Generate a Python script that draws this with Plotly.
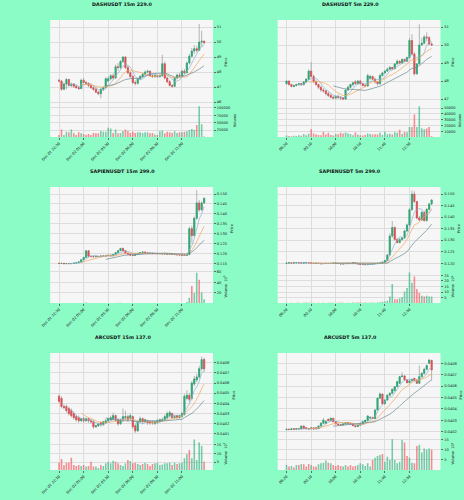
import plotly.graph_objects as go
import pandas as pd

# ---------------- DATA ----------------
labels_15m = ["Dec 01 22:30", "Dec 02 01:00", "Dec 02 03:30", "Dec 02 06:00", "Dec 02 08:30", "Dec 02 11:00"]
labels_5m = ["08:20", "09:10", "10:00", "10:50", "11:40", "12:30"]

dash15_open = [47.45,47.40,46.85,47.20,47.50,47.10,47.20,47.05,46.95,46.90,
               47.45,47.30,47.25,47.10,46.95,46.85,46.65,46.55,46.85,46.95,
               47.40,47.55,47.75,47.60,48.35,48.30,48.70,49.00,48.30,47.95,
               47.70,47.30,47.25,47.55,47.70,47.85,48.00,48.05,47.75,47.70,
               47.75,47.70,47.75,48.55,47.60,47.35,47.10,47.05,47.60,47.80,
               47.75,48.05,47.95,48.60,49.05,49.40,49.55,49.45,50.00,50.05]
dash15_high = [47.55,47.45,47.30,47.60,47.55,47.30,47.25,47.15,47.05,47.55,
               47.60,47.40,47.30,47.20,47.05,46.95,46.75,46.95,47.05,47.65,
               47.70,47.85,47.90,48.50,48.60,48.80,49.05,49.05,48.45,48.05,
               47.80,47.45,47.60,47.80,47.95,48.10,48.15,48.10,47.85,47.85,
               47.80,47.85,49.15,48.70,47.70,47.45,47.20,47.65,47.90,47.95,
               48.15,48.20,48.70,49.20,49.60,49.80,49.75,51.20,50.75,50.10]
dash15_low = [47.30,46.75,46.80,46.85,47.05,47.00,46.95,46.90,46.80,46.85,
              47.25,47.15,47.00,46.90,46.75,46.60,46.45,46.25,46.75,46.90,
              47.30,47.45,47.50,47.55,48.10,48.20,48.60,48.20,47.85,47.60,
              47.20,47.10,47.15,47.45,47.60,47.75,47.90,47.70,47.60,47.60,
              47.60,47.60,47.70,47.50,47.25,47.05,46.95,47.00,47.50,47.65,
              47.70,47.85,47.90,48.50,48.95,49.20,49.30,49.40,49.70,49.85]
dash15_close = [47.40,46.85,47.20,47.50,47.10,47.20,47.05,46.95,46.90,47.45,
                47.30,47.25,47.10,46.95,46.85,46.65,46.55,46.85,46.95,47.55,
                47.55,47.75,47.60,48.35,48.30,48.70,49.00,48.30,47.95,47.70,
                47.30,47.25,47.55,47.70,47.85,48.00,48.05,47.75,47.70,47.75,
                47.70,47.75,48.55,47.60,47.35,47.10,47.05,47.60,47.80,47.75,
                48.05,47.95,48.60,49.05,49.40,49.55,49.45,50.00,50.05,49.95]
dash15_vol = [7800,27000,7800,19000,17000,27000,13500,7800,17000,13500,
              11000,7800,11000,7800,15000,13500,13500,22000,19000,19000,
              33000,30000,15000,27000,13500,15000,22000,27000,22000,15000,
              19000,15000,17000,17000,15000,17000,17000,13500,15000,9500,
              7800,21000,23000,13500,19000,17000,15000,21000,15000,17000,
              17000,19000,21000,25000,28000,25000,42000,106000,45000,2500]

dash5_open = [47.85,48.00,47.80,47.70,47.75,47.80,47.85,47.80,47.95,48.10,
              48.55,48.25,47.95,47.80,47.65,47.50,47.45,47.30,47.20,47.10,
              47.05,47.15,47.10,47.05,47.00,47.50,47.65,47.80,47.95,47.85,
              48.00,47.85,47.75,47.72,48.15,48.25,48.10,47.95,47.85,48.30,
              48.45,48.55,48.65,48.75,48.68,48.95,49.10,49.00,49.20,49.10,
              49.30,50.25,49.50,48.40,48.95,50.00,50.10,50.45,50.40,50.05]
dash5_high = [48.05,48.02,47.85,47.80,47.85,47.90,47.90,48.00,48.15,48.65,
              49.05,48.35,48.05,47.85,47.75,47.60,47.50,47.40,47.30,47.20,
              47.20,47.25,47.15,47.10,47.55,47.75,47.85,47.95,48.05,48.05,
              48.05,47.90,47.85,48.40,48.35,48.30,48.20,48.00,48.40,48.50,
              48.60,48.75,48.85,48.80,49.00,49.20,49.15,49.25,49.25,49.35,
              50.40,50.60,49.60,49.00,51.15,50.40,50.55,50.70,50.50,50.15]
dash5_low = [47.80,47.75,47.65,47.65,47.70,47.75,47.75,47.75,47.90,48.05,
             48.20,47.90,47.75,47.55,47.40,47.35,47.20,47.10,47.05,47.00,
             47.00,47.00,46.95,46.95,46.95,47.45,47.60,47.70,47.80,47.80,
             47.80,47.70,47.65,47.70,48.05,48.05,47.85,47.75,47.80,48.25,
             48.40,48.50,48.60,48.60,48.65,48.90,48.95,48.95,49.05,49.05,
             49.25,49.45,48.30,48.35,48.90,49.95,50.05,50.20,50.00,49.95]
dash5_close = [48.00,47.80,47.70,47.75,47.80,47.85,47.80,47.95,48.10,48.55,
               48.25,47.95,47.80,47.65,47.50,47.45,47.30,47.20,47.10,47.05,
               47.15,47.10,47.05,47.00,47.50,47.65,47.80,47.90,47.85,48.00,
               47.85,47.75,47.72,48.30,48.25,48.10,47.95,47.85,48.30,48.45,
               48.55,48.65,48.75,48.68,48.95,49.10,49.00,49.20,49.10,49.30,
               50.25,49.50,48.40,48.95,50.00,50.10,50.45,50.40,50.05,50.00]
dash5_vol = [3000,2000,1500,2500,2000,3500,2500,5500,3500,6000,
             13500,6500,4500,4000,3500,9500,4500,7500,4000,3000,
             5500,5000,7500,6500,8000,6500,5500,3500,8000,4500,
             3500,3000,4000,6500,5500,4500,5000,4500,7500,4000,
             9500,5000,6000,4500,8500,7500,13000,5500,9000,8500,
             17500,17500,39000,17500,53000,15500,13500,15000,17500,1500]

sapien15_open = [.1150,.1149,.1150,.1148,.1149,.1148,.1149,.1151,.1153,.1157,
                 .1168,.1180,.1213,.1186,.1184,.1183,.1185,.1184,.1187,.1186,
                 .1189,.1191,.1188,.1194,.1204,.1214,.1225,.1214,.1201,.1196,
                 .1191,.1190,.1197,.1200,.1204,.1207,.1203,.1200,.1202,.1199,
                 .1200,.1198,.1199,.1197,.1198,.1196,.1197,.1195,.1194,.1193,
                 .1192,.1191,.1190,.1194,.1325,.1290,.1378,.1455,.1420,.1455]
sapien15_high = [.1152,.1151,.1151,.1150,.1151,.1150,.1152,.1154,.1158,.1170,
                 .1182,.1217,.1216,.1190,.1188,.1187,.1188,.1189,.1190,.1191,
                 .1193,.1194,.1196,.1206,.1216,.1228,.1230,.1217,.1204,.1199,
                 .1194,.1199,.1202,.1206,.1209,.1209,.1205,.1204,.1204,.1202,
                 .1202,.1201,.1201,.1200,.1199,.1198,.1198,.1197,.1196,.1195,
                 .1194,.1193,.1196,.1335,.1340,.1385,.1520,.1470,.1462,.1483]
sapien15_low = [.1148,.1147,.1147,.1146,.1147,.1146,.1148,.1150,.1152,.1156,
                .1166,.1178,.1183,.1181,.1180,.1181,.1182,.1183,.1184,.1185,
                .1187,.1187,.1186,.1192,.1202,.1212,.1211,.1198,.1193,.1188,
                .1187,.1189,.1195,.1198,.1202,.1201,.1198,.1198,.1197,.1196,
                .1197,.1196,.1195,.1195,.1194,.1194,.1193,.1192,.1191,.1190,
                .1189,.1188,.1188,.1192,.1255,.1285,.1370,.1410,.1415,.1450]
sapien15_close = [.1149,.1150,.1148,.1149,.1148,.1149,.1151,.1153,.1157,.1168,
                  .1180,.1213,.1186,.1184,.1183,.1185,.1184,.1187,.1186,.1189,
                  .1191,.1188,.1194,.1204,.1214,.1225,.1214,.1201,.1196,.1191,
                  .1190,.1197,.1200,.1204,.1207,.1203,.1200,.1202,.1199,.1200,
                  .1198,.1199,.1197,.1198,.1196,.1197,.1195,.1194,.1193,.1192,
                  .1191,.1190,.1194,.1325,.1290,.1378,.1455,.1420,.1455,.1478]
sapien15_vol_1e6 = [0.4,0.3,0.5,0.3,0.4,0.3,0.5,0.6,0.8,1.0,
                    1.4,2.2,1.2,0.6,0.5,0.4,0.5,0.4,0.5,0.6,
                    0.5,0.4,0.6,1.0,1.4,1.8,1.2,1.0,0.7,0.6,
                    0.5,0.6,0.5,0.6,0.7,0.5,0.4,0.4,0.5,0.4,
                    0.3,0.4,0.3,0.4,0.3,0.3,0.4,0.3,0.3,0.4,
                    0.5,0.6,3.0,11.0,33.0,20.0,58.0,45.0,21.0,8.0]

sapien5_open = [.1200,.1201,.1202,.1201,.1202,.1203,.1202,.1201,.1202,.1203,
                .1202,.1200,.1199,.1200,.1199,.1198,.1199,.1200,.1199,.1200,
                .1201,.1200,.1199,.1197,.1198,.1199,.1200,.1199,.1202,.1200,
                .1197,.1195,.1196,.1194,.1195,.1196,.1198,.1199,.1200,.1201,
                .1205,.1212,.1236,.1318,.1355,.1303,.1290,.1303,.1310,.1340,
                .1366,.1432,.1500,.1467,.1396,.1388,.1420,.1385,.1434,.1457]
sapien5_high = [.1202,.1203,.1203,.1203,.1204,.1204,.1203,.1203,.1204,.1205,
                .1203,.1201,.1201,.1201,.1200,.1200,.1201,.1201,.1201,.1202,
                .1202,.1201,.1200,.1199,.1200,.1201,.1201,.1203,.1203,.1201,
                .1198,.1197,.1197,.1196,.1197,.1199,.1200,.1201,.1202,.1206,
                .1214,.1240,.1330,.1383,.1360,.1310,.1308,.1315,.1345,.1372,
                .1438,.1515,.1512,.1470,.1405,.1425,.1428,.1438,.1460,.1478]
sapien5_low = [.1199,.1200,.1200,.1200,.1201,.1201,.1200,.1200,.1201,.1201,
               .1199,.1198,.1198,.1198,.1197,.1197,.1198,.1198,.1198,.1199,
               .1199,.1198,.1196,.1196,.1197,.1198,.1198,.1198,.1199,.1196,
               .1194,.1193,.1193,.1193,.1194,.1195,.1197,.1198,.1199,.1200,
               .1204,.1210,.1234,.1310,.1298,.1285,.1286,.1298,.1306,.1336,
               .1360,.1428,.1462,.1390,.1382,.1383,.1380,.1380,.1430,.1452]
sapien5_close = [.1201,.1202,.1201,.1202,.1203,.1202,.1201,.1202,.1203,.1202,
                 .1200,.1199,.1200,.1199,.1198,.1199,.1200,.1199,.1200,.1201,
                 .1200,.1199,.1197,.1198,.1199,.1200,.1199,.1202,.1200,.1197,
                 .1195,.1196,.1194,.1195,.1196,.1198,.1199,.1200,.1201,.1205,
                 .1212,.1236,.1318,.1355,.1303,.1290,.1303,.1310,.1340,.1366,
                 .1432,.1500,.1467,.1396,.1388,.1420,.1385,.1434,.1457,.1474]
sapien5_vol_1e6 = [0.3,0.2,0.3,0.2,0.4,0.3,0.2,0.3,0.5,0.3,
                   0.4,0.3,0.2,0.3,0.2,0.3,0.2,0.3,0.4,0.3,
                   0.2,0.3,0.5,0.3,0.2,0.3,0.2,0.6,0.4,0.5,
                   0.6,0.4,0.5,0.3,0.4,0.5,0.4,0.6,0.7,1.2,
                   1.5,2.2,5.9,17.3,3.5,3.5,4.4,5.5,10.5,13.6,
                   27.5,18.3,23.9,12.8,9.1,6.6,6.0,6.6,6.0,6.0]

arc15_open = [.04047,.04045,.04037,.04037,.04035,.04033,.04030,.04027,.04026,.04023,
              .04025,.04023,.04025,.04023,.04022,.04017,.04018,.04021,.04019,.04021,
              .04023,.04024,.04025,.04028,.04024,.04020,.04024,.04026,.04027,.04025,
              .04027,.04018,.04013,.04022,.04025,.04022,.04023,.04022,.04022,.04020,
              .04021,.04022,.04023,.04024,.04026,.04028,.04030,.04026,.04028,.04026,
              .04027,.04029,.04045,.04048,.04045,.04059,.04063,.04066,.04074,.04083]
arc15_high = [.04049,.04047,.04039,.04039,.04037,.04035,.04032,.04029,.04028,.04026,
              .04027,.04026,.04026,.04025,.04024,.04019,.04021,.04022,.04023,.04025,
              .04026,.04028,.04031,.04029,.04025,.04025,.04035,.04033,.04029,.04030,
              .04028,.04020,.04023,.04027,.04026,.04025,.04024,.04023,.04023,.04023,
              .04025,.04025,.04026,.04029,.04032,.04033,.04031,.04029,.04029,.04029,
              .04032,.04049,.04053,.04050,.04062,.04067,.04069,.04077,.04086,.04085]
arc15_low = [.04040,.04035,.04034,.04031,.04028,.04026,.04024,.04022,.04021,.04022,
             .04021,.04022,.04021,.04020,.04015,.04016,.04017,.04017,.04018,.04020,
             .04022,.04023,.04024,.04022,.04018,.04019,.04022,.04024,.04022,.04023,
             .04015,.04011,.04012,.04021,.04020,.04021,.04019,.04019,.04019,.04019,
             .04020,.04021,.04022,.04023,.04024,.04026,.04025,.04025,.04024,.04025,
             .04026,.04028,.04043,.04041,.04043,.04057,.04061,.04064,.04072,.04071]
arc15_close = [.04042,.04037,.04036,.04033,.04030,.04028,.04026,.04024,.04023,.04025,
               .04023,.04025,.04023,.04022,.04017,.04018,.04020,.04019,.04022,.04023,
               .04025,.04026,.04028,.04024,.04020,.04024,.04027,.04027,.04024,.04028,
               .04017,.04013,.04022,.04025,.04022,.04024,.04021,.04021,.04021,.04022,
               .04023,.04024,.04024,.04027,.04030,.04031,.04026,.04027,.04026,.04028,
               .04030,.04047,.04048,.04044,.04060,.04064,.04066,.04074,.04083,.04074]
arc15_vol_1e5 = [4.6,6.8,3.2,4.6,4.6,7.5,3.2,2.6,3.2,2.6,
                 3.2,2.3,2.6,5.2,2.3,2.3,1.5,3.2,2.6,4.2,
                 5.2,4.2,5.8,5.2,4.2,3.2,2.6,4.2,6.2,5.5,
                 4.2,4.6,3.8,3.2,3.8,4.6,3.8,2.6,3.8,4.2,
                 4.6,3.2,3.5,4.2,4.2,4.6,3.2,4.6,3.8,4.2,
                 4.6,7.2,9.5,12.1,7.2,18.3,6.2,16.4,14.4,5.2]

arc5_open = [.040218,.040222,.040219,.040226,.040221,.040228,.040224,.040250,.040236,.040227,
             .040224,.040234,.040236,.040226,.040250,.040274,.040272,.040309,.040297,.040318,
             .040288,.040268,.040262,.040259,.040268,.040280,.040274,.040268,.040253,.040245,
             .040258,.040270,.040288,.040300,.040320,.040326,.040316,.040391,.040493,.040531,
             .040445,.040478,.040520,.040537,.040560,.040595,.040625,.040683,.040689,.040654,
             .040630,.040645,.040668,.040654,.040625,.040683,.040712,.040747,.040800,.040825]
arc5_high = [.040226,.040228,.040230,.040230,.040232,.040234,.040255,.040256,.040238,.040232,
             .040238,.040236,.040240,.040256,.040285,.040320,.040300,.040315,.040325,.040322,
             .040292,.040275,.040268,.040272,.040285,.040285,.040280,.040272,.040258,.040262,
             .040275,.040295,.040305,.040345,.040335,.040330,.040395,.040500,.040545,.040535,
             .040485,.040525,.040545,.040580,.040600,.040645,.040690,.040720,.040695,.040660,
             .040650,.040665,.040672,.040660,.040780,.040720,.040760,.040790,.040835,.040830]
arc5_low = [.040212,.040215,.040216,.040218,.040218,.040222,.040220,.040226,.040225,.040220,
            .040222,.040222,.040220,.040224,.040246,.040270,.040268,.040295,.040290,.040285,
            .040265,.040255,.040250,.040255,.040262,.040270,.040262,.040250,.040240,.040242,
            .040255,.040266,.040284,.040296,.040312,.040310,.040312,.040388,.040488,.040440,
            .040440,.040470,.040515,.040530,.040555,.040590,.040620,.040680,.040650,.040625,
            .040625,.040640,.040645,.040620,.040620,.040678,.040705,.040740,.040795,.040650]
arc5_close = [.040222,.040219,.040226,.040221,.040228,.040225,.040250,.040228,.040227,.040224,
              .040234,.040224,.040226,.040250,.040274,.040303,.040290,.040297,.040318,.040288,
              .040268,.040262,.040259,.040268,.040280,.040274,.040268,.040253,.040245,.040258,
              .040270,.040288,.040300,.040338,.040326,.040316,.040391,.040493,.040531,.040445,
              .040478,.040520,.040537,.040572,.040595,.040639,.040683,.040689,.040654,.040630,
              .040645,.040660,.040650,.040625,.040683,.040712,.040747,.040780,.040829,.040742]
arc5_vol_1e5 = [2.6,1.8,2.1,1.4,2.6,2.6,3.1,2.9,1.8,3.1,
                2.6,1.8,1.8,2.9,3.4,3.7,4.7,3.7,3.4,2.6,
                2.1,2.6,2.1,1.8,2.6,1.8,2.6,1.8,2.1,2.6,
                3.4,2.9,2.1,3.4,1.8,5.0,6.1,6.9,7.4,7.9,
                4.2,6.6,5.0,15.0,5.0,3.4,4.2,14.7,13.4,6.9,
                6.1,3.7,3.4,11.7,12.3,8.6,10.6,9.9,10.6,9.9]

ma_windows = [5, 10, 20]

# ---------------- STYLE / LAYOUT SETTINGS ----------------
BG = "#8cfcc7"
PLOT_BG = "#f6f6f6"
GRID = "#dddddd"
UP, DN = "#1fb075", "#f2484e"
UPV, DNV = "rgba(31,176,117,0.6)", "rgba(242,72,78,0.6)"
WICK = "#8a8a8a"
MA_COLORS = ["#8fb0cc", "#f2a65a", "#6c8a92"]
FONT = "DejaVu Sans"
TICK_FS = 3.6

W, H = 464, 500
col_x = [(42, 208), (274, 440)]
row_y = [(20, 104, 137), (187, 270, 303), (353, 437, 470)]
title_y = [4, 171, 337]
XRANGE = [-3.6, 62.6]

charts = [
    dict(title="DASHUSDT 15m 229.0", o=dash15_open, h=dash15_high, l=dash15_low, c=dash15_close,
         v=dash15_vol, labels=labels_15m, pr=[45.867, 51.467], pd=1, pf="d",
         vr=[1140, 113600], vd=25000, vf="d", vt="Volume"),
    dict(title="DASHUSDT 5m 229.0", o=dash5_open, h=dash5_high, l=dash5_low, c=dash5_close,
         v=dash5_vol, labels=labels_5m, pr=[46.722, 51.389], pd=1, pf="d",
         vr=[400, 57000], vd=10000, vf="d", vt="Volume"),
    dict(title="SAPIENUSDT 15m 299.0", o=sapien15_open, h=sapien15_high, l=sapien15_low, c=sapien15_close,
         v=sapien15_vol_1e6, labels=labels_15m, pr=[0.11162, 0.15354], pd=0.005, pf=".3f",
         vr=[1.1, 63.2], vd=20, vf="d", vt="Volume  10<sup>6</sup>"),
    dict(title="SAPIENUSDT 5m 299.0", o=sapien5_open, h=sapien5_high, l=sapien5_low, c=sapien5_close,
         v=sapien5_vol_1e6, labels=labels_5m, pr=[0.1171, 0.15303], pd=0.005, pf=".3f",
         vr=[0.1, 29.8], vd=5, vf="d", vt="Volume  10<sup>6</sup>"),
    dict(title="ARCUSDT 15m 137.0", o=arc15_open, h=arc15_high, l=arc15_low, c=arc15_close,
         v=arc15_vol_1e5, labels=labels_15m, pr=[0.04007, 0.040895], pd=0.0001, pf=".4f",
         vr=[0.3, 19.7], vd=5, vf="d", vt="Volume  10<sup>5</sup>"),
    dict(title="ARCUSDT 5m 137.0", o=arc5_open, h=arc5_high, l=arc5_low, c=arc5_close,
         v=arc5_vol_1e5, labels=labels_5m, pr=[0.040154, 0.04089], pd=0.0001, pf=".4f",
         vr=[0.17, 16.1], vd=5, vf="d", vt="Volume  10<sup>5</sup>"),
]

fig = go.Figure()
layout = dict(width=W, height=H, margin=dict(l=0, r=0, t=0, b=0),
              paper_bgcolor=BG, plot_bgcolor=PLOT_BG, showlegend=False,
              font=dict(family=FONT, color="#222222", size=TICK_FS),
              boxgap=0.3, bargap=0.3, annotations=[])

def ak(prefix, n):
    return prefix if n == 1 else f"{prefix}{n}"

for p, ch in enumerate(charts):
    r, cidx = divmod(p, 2)
    x0, x1 = col_x[cidx]
    top, mid, bot = row_y[r]
    xdom = [x0 / W, x1 / W]
    pdom = [1 - mid / H, 1 - top / H]
    vdom = [1 - bot / H, 1 - mid / H]
    na, nb = 2 * p + 1, 2 * p + 2
    xs = list(range(len(ch["c"])))
    o, h, l, c, v = ch["o"], ch["h"], ch["l"], ch["c"], ch["v"]

    # wicks
    fig.add_trace(go.Candlestick(
        x=xs, open=o, high=h, low=l, close=c, whiskerwidth=0,
        increasing=dict(line=dict(color=WICK, width=0.6), fillcolor=WICK),
        decreasing=dict(line=dict(color=WICK, width=0.6), fillcolor=WICK),
        xaxis=f"x{na}", yaxis=f"y{na}", hoverinfo="skip"))
    # bodies
    fig.add_trace(go.Candlestick(
        x=xs, open=o, close=c,
        high=[max(a, b) for a, b in zip(o, c)], low=[min(a, b) for a, b in zip(o, c)],
        whiskerwidth=0,
        increasing=dict(line=dict(color=UP, width=0.4), fillcolor=UP),
        decreasing=dict(line=dict(color=DN, width=0.4), fillcolor=DN),
        xaxis=f"x{na}", yaxis=f"y{na}", hoverinfo="skip"))
    # moving averages
    for w, col in zip(ma_windows, MA_COLORS):
        ma = pd.Series(c).rolling(w).mean()
        fig.add_trace(go.Scatter(x=xs, y=ma, mode="lines", line=dict(color=col, width=0.7),
                                 xaxis=f"x{na}", yaxis=f"y{na}", hoverinfo="skip"))
    # volume
    fig.add_trace(go.Bar(x=xs, y=v, width=0.65,
                         marker=dict(color=[UPV if cc >= oo else DNV for oo, cc in zip(o, c)],
                                     line=dict(width=0)),
                         xaxis=f"x{nb}", yaxis=f"y{nb}", hoverinfo="skip"))

    common_x = dict(domain=xdom, range=XRANGE, tickmode="array", tickvals=[0, 10, 20, 30, 40, 50],
                    ticktext=ch["labels"], showgrid=True, gridcolor=GRID, gridwidth=0.6,
                    zeroline=False, showline=False, rangeslider=dict(visible=False))
    layout[ak("xaxis", na)] = dict(common_x, anchor=f"y{na}", showticklabels=False, ticks="")
    layout[ak("xaxis", nb)] = dict(common_x, anchor=f"y{nb}", matches=f"x{na}",
                                   showticklabels=True, tickangle=-45, ticks="outside",
                                   ticklen=2, tickwidth=0.5, tickcolor="#666666",
                                   tickfont=dict(size=TICK_FS))
    layout[ak("yaxis", na)] = dict(domain=pdom, anchor=f"x{na}", side="right", range=ch["pr"],
                                   dtick=ch["pd"], tick0=0, tickformat=ch["pf"],
                                   showgrid=True, gridcolor=GRID, gridwidth=0.6, zeroline=False,
                                   ticks="outside", ticklen=2, tickwidth=0.5, tickcolor="#666666",
                                   tickfont=dict(size=TICK_FS),
                                   title=dict(text="Price", font=dict(size=TICK_FS), standoff=3))
    layout[ak("yaxis", nb)] = dict(domain=vdom, anchor=f"x{nb}", side="right", range=ch["vr"],
                                   dtick=ch["vd"], tick0=0, tickformat=ch["vf"],
                                   showgrid=True, gridcolor=GRID, gridwidth=0.6, zeroline=False,
                                   ticks="outside", ticklen=2, tickwidth=0.5, tickcolor="#666666",
                                   tickfont=dict(size=TICK_FS),
                                   title=dict(text=ch["vt"], font=dict(size=TICK_FS), standoff=3))
    layout["annotations"].append(dict(
        text=f"<b>{ch['title']}</b>", x=(116 + 232 * cidx) / W, y=1 - title_y[r] / H,
        xref="paper", yref="paper", showarrow=False, xanchor="center", yanchor="middle",
        font=dict(size=4.8, family=FONT, color="#111111")))

fig.update_layout(**layout)
fig.write_html("out.html")
